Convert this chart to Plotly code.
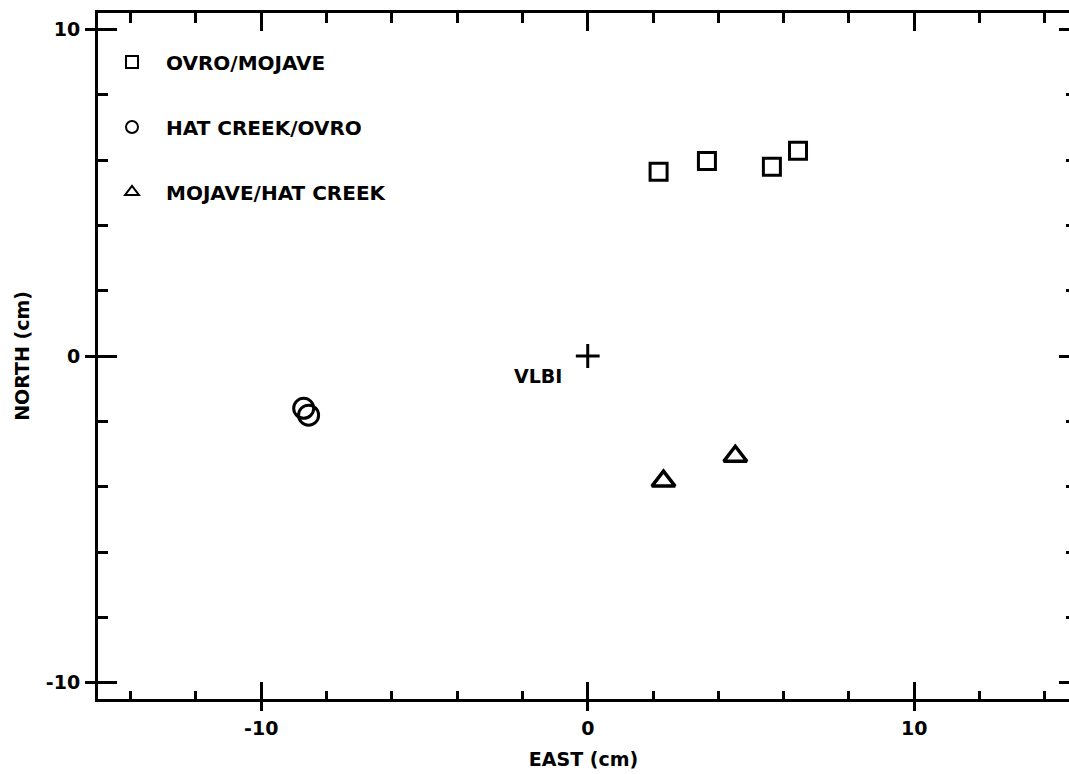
import plotly.graph_objects as go

# Baseline solutions, east/north offsets from the VLBI position (cm)
ovro_mojave_east = [2.17, 3.65, 5.64, 6.44]
ovro_mojave_north = [5.64, 5.97, 5.79, 6.28]

hatcreek_ovro_east = [-8.70, -8.55]
hatcreek_ovro_north = [-1.60, -1.81]

mojave_hatcreek_east = [2.32, 4.52]
mojave_hatcreek_north = [-3.83, -3.07]

vlbi_east = [0.0]
vlbi_north = [0.0]

series_names = ["OVRO/MOJAVE", "HAT CREEK/OVRO", "MOJAVE/HAT CREEK"]

x_range = [-15, 14.74]
y_range = [-10.5, 10.5]
major_ticks = [-10, 0, 10]
major_labels = ["-10", "0", "10"]

FONT = dict(family="DejaVu Sans", size=19, color="black", weight="bold")
LEGEND_FONT = dict(FONT, size=20)
INK = "black"

fig = go.Figure()

fig.add_trace(go.Scatter(
    x=ovro_mojave_east, y=ovro_mojave_north, mode="markers", name=series_names[0],
    legendgroup="a",
    marker=dict(symbol="square-open", size=17, color=INK, line=dict(width=3, color=INK)),
))
fig.add_trace(go.Scatter(
    x=hatcreek_ovro_east, y=hatcreek_ovro_north, mode="markers", name=series_names[1],
    legendgroup="b",
    marker=dict(symbol="circle-open", size=20, color=INK, line=dict(width=3, color=INK)),
))
fig.add_trace(go.Scatter(
    x=mojave_hatcreek_east, y=mojave_hatcreek_north, mode="markers", name=series_names[2],
    legendgroup="c",
    marker=dict(symbol="triangle-up-open", size=20, color=INK, line=dict(width=3.5, color=INK)),
))
fig.add_trace(go.Scatter(
    x=vlbi_east, y=vlbi_north, mode="markers", name="VLBI", showlegend=False,
    marker=dict(symbol="cross-thin-open", size=17, color=INK, line=dict(width=3, color=INK)),
))

# empty traces that carry the overlay axes used for extra tick marks
fig.add_trace(go.Scatter(x=[], y=[], xaxis="x2", yaxis="y2", showlegend=False, hoverinfo="skip"))
fig.add_trace(go.Scatter(x=[], y=[], xaxis="x3", yaxis="y3", showlegend=False, hoverinfo="skip"))

fig.add_annotation(
    x=vlbi_east[0], y=vlbi_north[0], text="VLBI", showarrow=False,
    xanchor="right", yanchor="middle", xshift=-24, yshift=-20, font=FONT,
)

common = dict(showgrid=False, zeroline=False, fixedrange=True)

fig.update_layout(
    width=1069, height=774,
    margin=dict(l=98, r=0, t=13, b=75),
    paper_bgcolor="white", plot_bgcolor="white",
    font=FONT,
    showlegend=True,
    legend=dict(
        x=0.0, y=0.957, xanchor="left", yanchor="top",
        font=LEGEND_FONT, bgcolor="rgba(0,0,0,0)", borderwidth=0,
        itemwidth=58, itemsizing="constant", tracegroupgap=36,
        traceorder="grouped",
    ),
    xaxis=dict(
        range=x_range, **common,
        showline=True, linewidth=3, linecolor=INK,
        tickmode="array", tickvals=major_ticks, ticktext=major_labels,
        ticks="outside", ticklen=9, tickwidth=2.5, tickcolor=INK,
        ticklabelstandoff=1, tickfont=FONT,
        minor=dict(ticks="inside", dtick=2, tick0=0, ticklen=8, tickwidth=2.5, tickcolor=INK),
        title=dict(text="EAST (cm)", font=FONT, standoff=15),
    ),
    yaxis=dict(
        range=y_range, **common,
        showline=True, linewidth=3, linecolor=INK,
        tickmode="array", tickvals=major_ticks, ticktext=major_labels,
        ticks="outside", ticklen=10, tickwidth=2.5, tickcolor=INK,
        ticklabelstandoff=1, tickfont=FONT,
        minor=dict(ticks="inside", dtick=2, tick0=0, ticklen=10, tickwidth=2.5, tickcolor=INK),
        title=dict(text="NORTH (cm)", font=FONT, standoff=12),
    ),
    # top and right frame ticks
    xaxis2=dict(
        range=x_range, **common, overlaying="x", side="top", anchor="y2",
        showline=True, linewidth=3, linecolor=INK, showticklabels=False,
        tickmode="array", tickvals=major_ticks,
        ticks="inside", ticklen=18, tickwidth=2.5, tickcolor=INK,
        minor=dict(ticks="inside", dtick=2, tick0=0, ticklen=10, tickwidth=2.5, tickcolor=INK),
    ),
    yaxis2=dict(
        range=y_range, **common, overlaying="y", side="right", anchor="x2",
        showline=False, showticklabels=False,
        tickmode="array", tickvals=major_ticks,
        ticks="inside", ticklen=10, tickwidth=2.5, tickcolor=INK,
        minor=dict(ticks="inside", dtick=2, tick0=0, ticklen=3, tickwidth=2.5, tickcolor=INK),
    ),
    # inward half of the major ticks on bottom and left
    xaxis3=dict(
        range=x_range, **common, overlaying="x", side="bottom", anchor="y3",
        showline=False, showticklabels=False,
        tickmode="array", tickvals=major_ticks,
        ticks="inside", ticklen=17, tickwidth=2.5, tickcolor=INK,
    ),
    yaxis3=dict(
        range=y_range, **common, overlaying="y", side="left", anchor="x3",
        showline=False, showticklabels=False,
        tickmode="array", tickvals=major_ticks,
        ticks="inside", ticklen=19, tickwidth=2.5, tickcolor=INK,
    ),
)

fig.write_html("out.html")
